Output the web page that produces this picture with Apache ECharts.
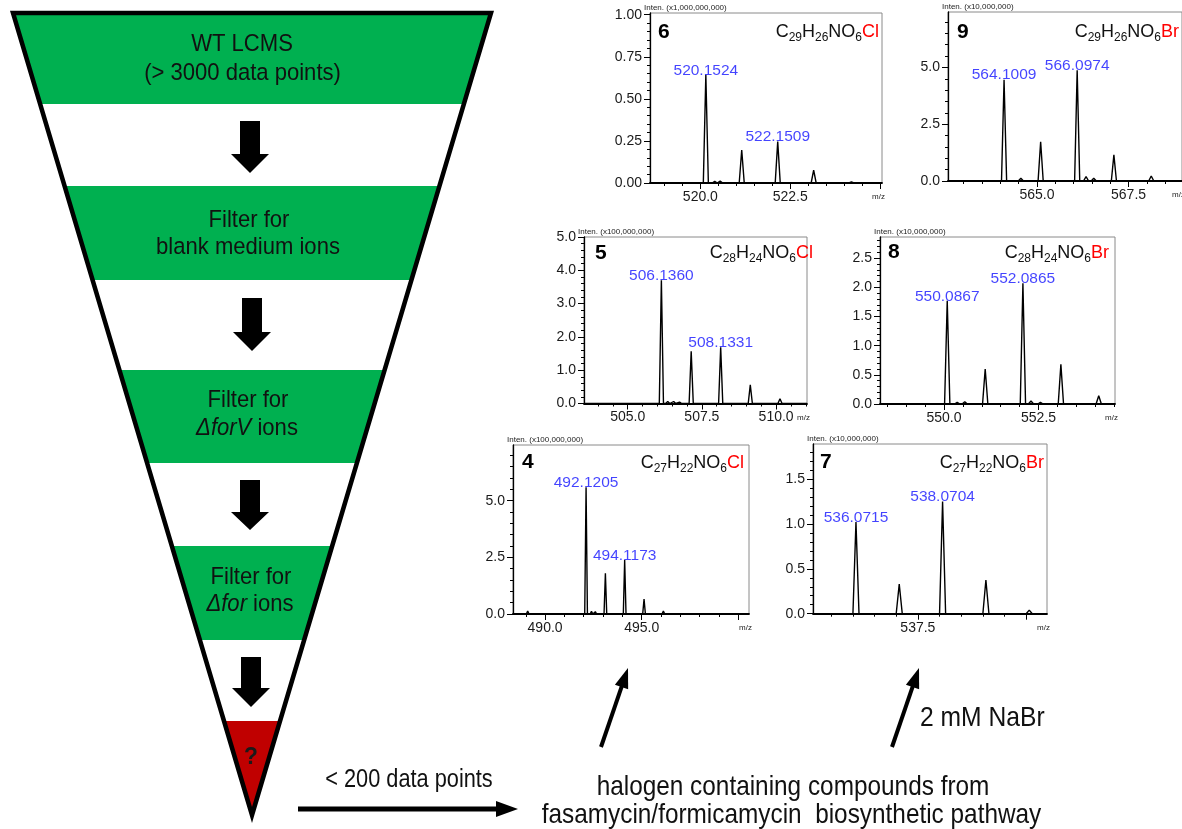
<!DOCTYPE html>
<html><head><meta charset="utf-8">
<script src="https://cdn.jsdelivr.net/npm/echarts@6/dist/echarts.min.js"></script>
<style>html,body{margin:0;padding:0;background:#fff}#c{width:1182px;height:829px}</style>
</head><body><div id="c"></div>
<script>
const FONT = "'Liberation Sans', Arial, Helvetica, sans-serif";

// ---------------- DATA ----------------
// Panel 6
const p6Mz  = [520.1524, 520.40, 520.55, 521.15, 522.1509, 523.15, 524.20];
const p6Int = [0.643, 0.010, 0.012, 0.196, 0.246, 0.077, 0.006];
const p6Labeled = [520.1524, 522.1509];
const p6XLabels = [520.0, 522.5];
const p6XMajor  = [520.0, 522.5, 525.0];
const p6YLabels = [0, 0.25, 0.50, 0.75, 1.00];
// Panel 9
const p9Mz  = [564.1009, 564.56, 565.10, 566.0974, 566.34, 566.55, 567.10, 568.12];
const p9Int = [4.46, 0.12, 1.73, 4.87, 0.19, 0.12, 1.15, 0.22];
const p9Labeled = [564.1009, 566.0974];
const p9XLabels = [565.0, 567.5];
const p9XMajor  = [565.0, 567.5];
const p9YLabels = [0, 2.5, 5.0];
// Panel 5
const p5Mz  = [506.1360, 506.35, 506.55, 506.75, 507.14, 508.1331, 509.13, 510.13];
const p5Int = [3.70, 0.06, 0.06, 0.04, 1.57, 1.69, 0.56, 0.14];
const p5Labeled = [506.1360, 508.1331];
const p5XLabels = [505.0, 507.5, 510.0];
const p5XMajor  = [505.0, 507.5, 510.0];
const p5YLabels = [0, 1, 2, 3, 4, 5];
// Panel 8
const p8Mz  = [550.0867, 550.35, 550.55, 551.09, 552.0865, 552.30, 552.55, 553.09, 554.09];
const p8Int = [1.77, 0.03, 0.04, 0.60, 2.07, 0.05, 0.03, 0.68, 0.14];
const p8Labeled = [550.0867, 552.0865];
const p8XLabels = [550.0, 552.5];
const p8XMajor  = [550.0, 552.5];
const p8YLabels = [0, 0.5, 1.0, 1.5, 2.0, 2.5];
// Panel 4
const p4Mz  = [489.10, 492.1205, 492.40, 492.60, 493.12, 494.1173, 495.12, 496.12];
const p4Int = [0.13, 5.59, 0.12, 0.10, 1.80, 2.38, 0.66, 0.13];
const p4Labeled = [492.1205, 494.1173];
const p4XLabels = [490.0, 495.0];
const p4XMajor  = [490.0, 495.0, 500.0];
const p4YLabels = [0, 2.5, 5.0];
// Panel 7
const p7Mz  = [536.0715, 537.07, 538.0704, 539.07, 540.07];
const p7Int = [1.02, 0.33, 1.25, 0.375, 0.04];
const p7Labeled = [536.0715, 538.0704];
const p7XLabels = [537.5];
const p7XMajor  = [537.5, 540.0];
const p7YLabels = [0, 0.5, 1.0, 1.5];

// ---------------- LAYOUT ----------------
const panels = [
  {id:'6', formula:'C29H26NO6', hal:'Cl', scale:'Inten. (x1,000,000,000)', mz:p6Mz, it:p6Int, lab:p6Labeled, xl:p6XLabels, xM:p6XMajor, yl:p6YLabels,
   g:{left:650, top:13, width:232, height:170}, xmin:518.6, xmax:525.05, ymax:1.01, xStep:0.5, yStep:0.05, yDec:2, num:[8,19], form:[-3,19]},
  {id:'9', formula:'C29H26NO6', hal:'Br', scale:'Inten. (x10,000,000)', mz:p9Mz, it:p9Int, lab:p9Labeled, xl:p9XLabels, xM:p9XMajor, yl:p9YLabels,
   g:{left:948, top:12, width:234, height:169}, xmin:562.57, xmax:568.96, ymax:7.44, xStep:0.5, yStep:0.5, yDec:1, num:[9,20], form:[-3,20]},
  {id:'5', formula:'C28H24NO6', hal:'Cl', scale:'Inten. (x100,000,000)', mz:p5Mz, it:p5Int, lab:p5Labeled, xl:p5XLabels, xM:p5XMajor, yl:p5YLabels,
   g:{left:584, top:237, width:223, height:166.5}, xmin:503.53, xmax:511.04, ymax:5.0, xStep:0.5, yStep:0.2, yDec:1, num:[11,16], form:[6,16]},
  {id:'8', formula:'C28H24NO6', hal:'Br', scale:'Inten. (x10,000,000)', mz:p8Mz, it:p8Int, lab:p8Labeled, xl:p8XLabels, xM:p8XMajor, yl:p8YLabels,
   g:{left:880, top:237, width:235, height:167}, xmin:548.31, xmax:554.52, ymax:2.864, xStep:0.5, yStep:0.1, yDec:1, num:[8,15], form:[-6,16]},
  {id:'4', formula:'C27H22NO6', hal:'Cl', scale:'Inten. (x100,000,000)', mz:p4Mz, it:p4Int, lab:p4Labeled, xl:p4XLabels, xM:p4XMajor, yl:p4YLabels,
   g:{left:513, top:445, width:236, height:169}, xmin:488.34, xmax:500.55, ymax:7.455, xStep:1.0, yStep:0.5, yDec:1, num:[9,17], form:[-5,18]},
  {id:'7', formula:'C27H22NO6', hal:'Br', scale:'Inten. (x10,000,000)', mz:p7Mz, it:p7Int, lab:p7Labeled, xl:p7XLabels, xM:p7XMajor, yl:p7YLabels,
   g:{left:813, top:444, width:234, height:169.7}, xmin:535.08, xmax:540.48, ymax:1.89, xStep:0.5, yStep:0.1, yDec:1, num:[7,18], form:[-3,19]}
];

const HW = 0.07; // half width of peak profile (drawing style)

function profile(p) {
  const idx = p.mz.map((m, i) => i).sort((a, b) => p.mz[a] - p.mz[b]);
  const pts = [[p.xmin, 0]];
  idx.forEach(i => { pts.push([p.mz[i] - HW, 0], [p.mz[i], p.it[i]], [p.mz[i] + HW, 0]); });
  pts.push([p.xmax, 0]);
  return pts;
}
function steps(min, max, step) {
  const out = [];
  for (let k = Math.ceil(min / step - 1e-9); k * step <= max + 1e-9; k++) out.push(+(k * step).toFixed(6));
  return out;
}
function formulaRich(f, hal) {
  return f.split(/(\d+)/).filter(s => s).map(s => /^\d+$/.test(s) ? '{s|' + s + '}' : '{m|' + s + '}').join('') + '{r|' + hal + '}';
}

const grids = [], xAxes = [], yAxes = [], series = [], graphics = [];
panels.forEach((p, i) => {
  grids.push({left:p.g.left, top:p.g.top, width:p.g.width, height:p.g.height, show:true, borderColor:'#8a8a8a', borderWidth:1, backgroundColor:'transparent'});
  const xi = xAxes.length, yi = yAxes.length;
  xAxes.push({type:'value', gridIndex:i, position:'bottom', min:p.xmin, max:p.xmax,
    axisLine:{show:true, onZero:false, lineStyle:{color:'#000', width:1.8}},
    axisTick:{show:true, inside:false, length:6, customValues:p.xM, lineStyle:{color:'#000', width:1}},
    axisLabel:{show:true, customValues:p.xl, formatter:v => v.toFixed(1), fontSize:14, color:'#1a1a1a', fontFamily:FONT, margin:7},
    splitLine:{show:false}});
  xAxes.push({type:'value', gridIndex:i, position:'bottom', min:p.xmin, max:p.xmax,
    axisLine:{show:false, onZero:false},
    axisTick:{show:true, inside:false, length:3, customValues:steps(p.xmin, p.xmax, p.xStep), lineStyle:{color:'#000', width:1}},
    axisLabel:{show:false}, splitLine:{show:false}});
  yAxes.push({type:'value', gridIndex:i, position:'left', min:0, max:p.ymax,
    axisLine:{show:true, onZero:false, lineStyle:{color:'#000', width:1.3}},
    axisTick:{show:true, inside:false, length:6, customValues:p.yl, lineStyle:{color:'#000', width:1}},
    axisLabel:{show:true, customValues:p.yl, formatter:v => v.toFixed(p.yDec), fontSize:14, color:'#1a1a1a', fontFamily:FONT, margin:8},
    splitLine:{show:false}});
  yAxes.push({type:'value', gridIndex:i, position:'left', min:0, max:p.ymax,
    axisLine:{show:false, onZero:false},
    axisTick:{show:true, inside:false, length:3, customValues:steps(0, p.ymax, p.yStep), lineStyle:{color:'#000', width:1}},
    axisLabel:{show:false}, splitLine:{show:false}});
  series.push({type:'line', xAxisIndex:xi, yAxisIndex:yi, data:profile(p), showSymbol:false, symbol:'none',
    lineStyle:{color:'#000', width:1.4}, silent:true, z:3});
  series.push({type:'scatter', xAxisIndex:xi, yAxisIndex:yi, symbol:'circle', symbolSize:1,
    itemStyle:{color:'rgba(0,0,0,0)'}, silent:true, z:4,
    data:p.lab.map(m => [m, p.it[p.mz.indexOf(m)]]),
    label:{show:true, position:'top', distance:0, offset:[0,4], formatter:q => q.value[0].toFixed(4),
      color:'#1414ff', fontSize:15.5, fontFamily:FONT}});
  const L = p.g.left, T = p.g.top, R = p.g.left + p.g.width, B = p.g.top + p.g.height;
  graphics.push({type:'text', x:L + p.num[0], y:T + p.num[1], z:10,
    style:{text:p.id, font:'bold 21px ' + FONT, fill:'#000', align:'left', verticalAlign:'middle', textAlign:'left', textVerticalAlign:'middle'}});
  graphics.push({type:'text', x:R + p.form[0], y:T + p.form[1], z:10,
    style:{text:formulaRich(p.formula, p.hal), align:'right', verticalAlign:'middle', textAlign:'right', textVerticalAlign:'middle',
      rich:{m:{fontSize:18, fontFamily:FONT, fill:'#111', lineHeight:24},
            s:{fontSize:12, fontFamily:FONT, fill:'#111', lineHeight:12, verticalAlign:'bottom'},
            r:{fontSize:18, fontFamily:FONT, fill:'#ff0000', lineHeight:24}}}});
  graphics.push({type:'text', x:L - 6, y:T - 1, z:10,
    style:{text:p.scale, font:'8px ' + FONT, fill:'#222', align:'left', verticalAlign:'bottom', textAlign:'left', textVerticalAlign:'bottom'}});
  graphics.push({type:'text', x:R + 3, y:B + 14, z:10,
    style:{text:'m/z', font:'8px ' + FONT, fill:'#222', align:'right', verticalAlign:'middle', textAlign:'right', textVerticalAlign:'middle'}});
});

// ---------------- FUNNEL DIAGRAM ----------------
const TL = [13, 13], TR = [491, 13], TIP = [252, 815];
const xl = y => TL[0] + (y - TL[1]) * (TIP[0] - TL[0]) / (TIP[1] - TL[1]);
const xr = y => TR[0] + (y - TR[1]) * (TIP[0] - TR[0]) / (TIP[1] - TR[1]);
const GREEN = '#00b050', RED = '#c00000';
[[13,104],[186,280],[370,463],[546,640]].forEach(([a, b]) => {
  graphics.push({type:'polygon', z:1, shape:{points:[[xl(a),a],[xr(a),a],[xr(b),b],[xl(b),b]]}, style:{fill:GREEN}});
});
graphics.push({type:'polygon', z:1, shape:{points:[[xl(721),721],[xr(721),721],TIP]}, style:{fill:RED}});
graphics.push({type:'polygon', z:5, shape:{points:[TL, TR, TIP]}, style:{fill:null, stroke:'#000', lineWidth:4.5, lineJoin:'miter', miterLimit:20}});
// block arrows
[[250,121,154,173],[252,298,332,351],[250,480,512,530],[251,657,688,707]].forEach(([cx, st, hs, tp]) => {
  graphics.push({type:'polygon', z:6, shape:{points:[[cx-10,st],[cx+10,st],[cx+10,hs],[cx+19,hs],[cx,tp],[cx-19,hs],[cx-10,hs]]}, style:{fill:'#000'}});
});
function ftext(x, y, txt, size, sx, extra) {
  const st = Object.assign({text:txt, fontSize:size, fontFamily:FONT, fill:'#111', align:'center', verticalAlign:'middle', textAlign:'center', textVerticalAlign:'middle'}, extra || {});
  graphics.push({type:'text', x:x, y:y, scaleX:sx, z:7, style:st});
}
ftext(242, 44, 'WT LCMS', 24.5, 0.9);
ftext(242.5, 73, '(> 3000 data points)', 24.5, 0.9);
ftext(249, 220, 'Filter for', 24.5, 0.9);
ftext(248, 247, 'blank medium ions', 24.5, 0.9);
ftext(248, 400, 'Filter for', 24.5, 0.9);
ftext(247, 428, '{i|ΔforV}{n| ions}', 24.5, 0.9, {rich:{i:{fontSize:24.5, fontFamily:FONT, fontStyle:'italic', fill:'#111'}, n:{fontSize:24.5, fontFamily:FONT, fill:'#111'}}});
ftext(251, 577, 'Filter for', 24.5, 0.9);
ftext(250, 604, '{i|Δfor}{n| ions}', 24.5, 0.9, {rich:{i:{fontSize:24.5, fontFamily:FONT, fontStyle:'italic', fill:'#111'}, n:{fontSize:24.5, fontFamily:FONT, fill:'#111'}}});
ftext(251, 757, '?', 24, 0.95, {fontWeight:'bold', fill:'#1a1a1a'});

// bottom arrows and text
graphics.push({type:'line', z:6, shape:{x1:298, y1:809, x2:500, y2:809}, style:{stroke:'#000', lineWidth:5}});
graphics.push({type:'polygon', z:6, shape:{points:[[496,801],[518,809],[496,817]]}, style:{fill:'#000'}});
function upArrow(bx, by, tx, ty) {
  const dx = tx - bx, dy = ty - by, len = Math.hypot(dx, dy), ux = dx / len, uy = dy / len;
  const hl = 20, hw = 7, cx = tx - ux * hl, cy = ty - uy * hl, px = -uy, py = ux;
  graphics.push({type:'line', z:6, shape:{x1:bx, y1:by, x2:cx + ux * 2, y2:cy + uy * 2}, style:{stroke:'#000', lineWidth:4}});
  graphics.push({type:'polygon', z:6, shape:{points:[[tx,ty],[cx + px * hw, cy + py * hw],[cx - px * hw, cy - py * hw]]}, style:{fill:'#000'}});
}
upArrow(601, 747, 628, 668);
upArrow(892, 747, 919, 668);
ftext(409, 780, '< 200 data points', 25, 0.87);
ftext(793, 787, 'halogen containing compounds from', 28, 0.87);
ftext(791.5, 815, 'fasamycin/formicamycin  biosynthetic pathway', 28, 0.87);
graphics.push({type:'text', x:920, y:718, scaleX:0.88, z:7, style:{text:'2 mM NaBr', fontSize:28, fontFamily:FONT, fill:'#111', align:'left', verticalAlign:'middle', textAlign:'left', textVerticalAlign:'middle'}});

const chart = echarts.init(document.getElementById('c'), null, {renderer:'canvas'});
chart.setOption({animation:false, backgroundColor:'#fff', grid:grids, xAxis:xAxes, yAxis:yAxes, series:series, graphic:{elements:graphics}});
</script></body></html>
